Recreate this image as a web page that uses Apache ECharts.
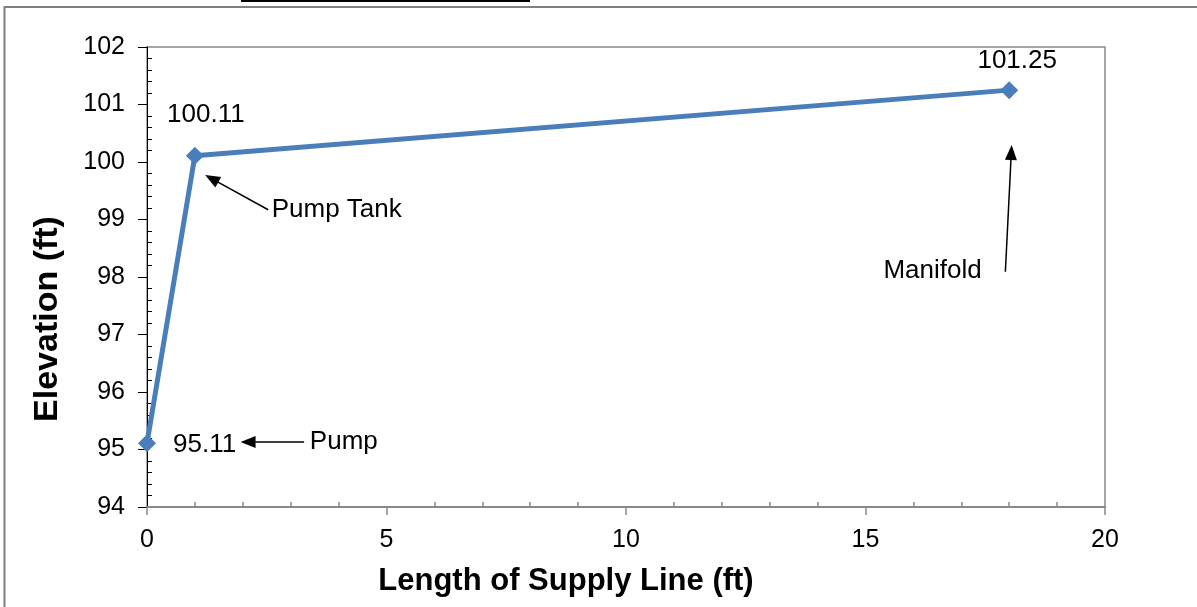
<!DOCTYPE html>
<html>
<head>
<meta charset="utf-8">
<script src="https://cdn.jsdelivr.net/npm/echarts@6/dist/echarts.min.js"></script>
<style>
html,body{margin:0;padding:0;background:#fff;}
#chart{width:1197px;height:607px;}
</style>
</head>
<body>
<div id="chart"></div>
<script>
// ---- data ----
const lengths = [0, 1, 18];
const elevations = [95.11, 100.11, 101.25];
const pointLabels = ['95.11', '100.11', '101.25'];
const annotationTexts = ['Pump', 'Pump Tank', 'Manifold'];
const annotationAt = [[3.40, 95.136], [2.603, 99.165], [17.426, 98.11]];
const arrowFrom = [[3.28, 95.13], [2.53, 99.17], [17.92, 98.09]];
const arrowTo = [[2.11, 95.13], [1.35, 99.711], [18.044, 100.165]];
const xTicks = {min: 0, max: 20, interval: 5};
const yTicks = {min: 94, max: 102, interval: 1};

// ---- presentation ----
const FONT = '"Liberation Sans", Arial, sans-serif';
const labelStyles = [
  {position: 'right', distance: 17, offset: [0, 2]},
  {position: 'top', distance: 19, offset: [11, 0]},
  {position: 'top', distance: 7, offset: [8, 0]}
];
const annotationPos = ['right', 'right', 'left'];

const lineData = lengths.map((x, i) => ({
  value: [x, elevations[i]],
  label: Object.assign({
    show: true,
    formatter: pointLabels[i],
    color: '#000',
    fontSize: 26,
    fontFamily: FONT
  }, labelStyles[i])
}));

const annData = annotationTexts.map((t, i) => ({
  value: annotationAt[i],
  label: {
    show: true,
    formatter: t,
    position: annotationPos[i],
    distance: 0,
    color: '#000',
    opacity: 1,
    fontSize: 26,
    fontFamily: FONT
  }
}));

const arrows = arrowFrom.map((f, i) => [{coord: f}, {coord: arrowTo[i]}]);

const chart = echarts.init(document.getElementById('chart'), null, {renderer: 'canvas'});
chart.setOption({
  backgroundColor: '#fff',
  animation: false,
  textStyle: {fontFamily: FONT},
  grid: {
    left: 147, right: 92, top: 47, bottom: 100,
    show: true, borderColor: '#898989', borderWidth: 1.5, backgroundColor: 'transparent'
  },
  xAxis: {
    type: 'value',
    min: xTicks.min, max: xTicks.max, interval: xTicks.interval,
    name: 'Length of Supply Line (ft)',
    nameLocation: 'middle',
    nameGap: 59,
    nameTextStyle: {fontSize: 31, fontWeight: 'bold', color: '#000', fontFamily: FONT, padding: [0, 120, 0, 0]},
    axisLine: {show: true, lineStyle: {color: '#898989', width: 2}},
    axisTick: {show: true, length: 8, lineStyle: {color: '#898989', width: 1.5}},
    minorTick: {show: true, splitNumber: 5, length: -5, lineStyle: {color: '#898989', width: 1.5}},
    splitLine: {show: false},
    axisLabel: {fontSize: 25, color: '#000', margin: 21, fontFamily: FONT}
  },
  yAxis: {
    type: 'value',
    min: yTicks.min, max: yTicks.max, interval: yTicks.interval,
    name: 'Elevation (ft)',
    nameLocation: 'middle',
    nameGap: 82,
    nameTextStyle: {fontSize: 34, fontWeight: 'bold', color: '#000', fontFamily: FONT, padding: [0, 84, 0, 0]},
    axisLine: {show: true, lineStyle: {color: '#000', width: 1}},
    axisTick: {show: true, length: 9, lineStyle: {color: '#000', width: 1}},
    minorTick: {show: true, splitNumber: 5, length: -5, lineStyle: {color: '#000', width: 1}},
    splitLine: {show: false},
    axisLabel: {fontSize: 25, color: '#000', margin: 22, fontFamily: FONT}
  },
  series: [
    {
      type: 'line',
      data: lineData,
      symbol: 'diamond',
      symbolSize: 18,
      lineStyle: {color: '#4a7ebb', width: 5},
      itemStyle: {color: '#4a7ebb'},
      z: 3,
      markLine: {
        silent: true,
        symbol: ['none', 'triangle'],
        symbolSize: [12, 15],
        lineStyle: {color: '#000', width: 1.5, type: 'solid'},
        itemStyle: {color: '#000'},
        label: {show: false},
        emphasis: {disabled: true},
        data: arrows
      }
    },
    {
      type: 'scatter',
      data: annData,
      symbolSize: 0,
      silent: true,
      itemStyle: {opacity: 1},
      z: 4
    }
  ],
  graphic: [
    {type: 'polyline', shape: {points: [[4.5, 607], [4.5, 7], [1197, 7]]}, style: {stroke: '#7f7f7f', lineWidth: 2, fill: null}},
    {type: 'rect', shape: {x: 241, y: 0, width: 289, height: 2}, style: {fill: '#000'}}
  ]
});
</script>
</body>
</html>
